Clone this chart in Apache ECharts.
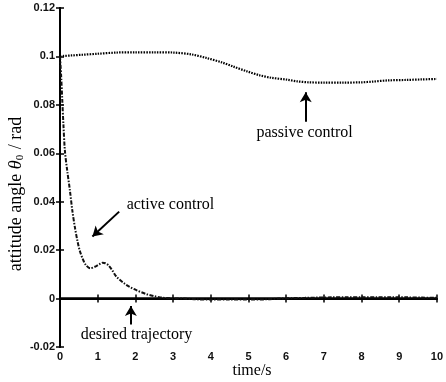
<!DOCTYPE html>
<html>
<head>
    <meta charset="UTF-8" />
    <title>attitude angle</title>
    <script src="https://cdn.jsdelivr.net/npm/echarts@6/dist/echarts.min.js"></script>
    <style>
        html, body { margin: 0; padding: 0; background: #fff; }
        #main { width: 446px; height: 382px; }
    </style>
</head>
<body>
    <div id="main"></div>
    <script>
        // time (s) and attitude angle (rad)
        var activeT = [0, 0.03, 0.06, 0.09, 0.13, 0.19, 0.26, 0.33, 0.4, 0.46, 0.52, 0.6, 0.68, 0.8, 0.95, 1.05, 1.13, 1.2, 1.28, 1.38, 1.5, 1.7, 1.85, 2.05, 2.3, 2.5, 2.7, 3.0, 3.3, 3.6, 4.0, 4.5, 5.0, 5.5, 5.8, 6.2, 6.5, 6.8, 7.2, 7.6, 8.0, 8.4, 8.8, 9.2, 9.6, 10];
        var activeV = [0.1, 0.092, 0.082, 0.072, 0.061, 0.053, 0.045, 0.036, 0.029, 0.024, 0.020, 0.0165, 0.014, 0.0125, 0.0133, 0.0142, 0.0148, 0.0146, 0.0138, 0.0118, 0.009, 0.0063, 0.0048, 0.0033, 0.0018, 0.001, 0.0004, 0.0001, 0, -0.0003, -0.0004, -0.0004, -0.0004, -0.0003, 0, 0.0002, 0.0003, 0.0004, 0.0005, 0.0005, 0.0005, 0.0005, 0.0005, 0.0005, 0.0004, 0.0003];
        var passiveT = [0, 0.1, 0.3, 0.6, 1, 1.5, 2, 2.5, 3, 3.5, 3.9, 4.3, 4.6, 4.97, 5.3, 5.6, 6.02, 6.3, 6.6, 7, 7.5, 8, 8.3, 8.7, 9.2, 9.6, 10];
        var passiveV = [0.1, 0.1002, 0.1004, 0.1007, 0.1011, 0.1016, 0.1017, 0.1017, 0.1016, 0.1008, 0.0993, 0.0975, 0.0958, 0.0938, 0.0922, 0.0912, 0.0904, 0.0897, 0.0893, 0.0892, 0.0892, 0.0893, 0.0896, 0.0901, 0.0903, 0.0905, 0.0907];
        var desiredT = [0, 10];
        var desiredV = [0, 0];

        // annotations: [text, text x, text y, arrow from x, from y, arrow to x, to y]
        var notes = [
            ['passive control', 6.49, 0.0685, 6.52, 0.073, 6.52, 0.0852],
            ['active control', 2.93, 0.0388, 1.57, 0.0359, 0.86, 0.0256],
            ['desired trajectory', 2.03, -0.0149, 1.88, -0.0107, 1.88, -0.0031]
        ];

        function zip(a, b) {
            return a.map(function (x, i) { return [x, b[i]]; });
        }

        var myChart = echarts.init(document.getElementById('main'));
        var tickFont = { fontFamily: 'Liberation Sans', fontWeight: 'bold', fontSize: 11, color: '#111' };
        var boxLine = { show: true, lineStyle: { color: '#000', width: 2 } };

        var option = {
            animation: false,
            grid: { left: 60, right: 4, top: 8, bottom: 35, containLabel: false },
            xAxis: [
                {
                    type: 'value', min: 0, max: 10, interval: 1,
                    axisLine: boxLine,
                    axisTick: { inside: true, length: 4, lineStyle: { color: '#000', width: 1.5 } },
                    axisLabel: Object.assign({ margin: 4 }, tickFont),
                    splitLine: { show: false }
                },
                {
                    type: 'value', min: 0, max: 10, interval: 1, position: 'top',
                    axisLine: boxLine,
                    axisTick: { inside: true, length: 4, lineStyle: { color: '#000', width: 1.5 } },
                    axisLabel: { show: false },
                    splitLine: { show: false }
                }
            ],
            yAxis: [
                {
                    type: 'value', min: -0.02, max: 0.12, interval: 0.02,
                    axisLine: boxLine,
                    axisTick: { inside: true, length: 4, lineStyle: { color: '#000', width: 1.5 } },
                    axisLabel: Object.assign({ margin: 5, formatter: function (v) { return String(+v.toFixed(2)); } }, tickFont),
                    splitLine: { show: false }
                },
                {
                    type: 'value', min: -0.02, max: 0.12, interval: 0.02, position: 'right',
                    axisLine: boxLine,
                    axisTick: { inside: true, length: 4, lineStyle: { color: '#000', width: 1.5 } },
                    axisLabel: { show: false },
                    splitLine: { show: false }
                }
            ],
            series: [
                {
                    name: 'desired trajectory', type: 'line', symbol: 'none',
                    data: zip(desiredT, desiredV),
                    lineStyle: { color: '#000', width: 2.5 }
                },
                {
                    name: 'passive control', type: 'line', symbol: 'none', smooth: 0.3,
                    data: zip(passiveT, passiveV),
                    lineStyle: { color: '#000', width: 2.2, type: [1.5, 1.2] }
                },
                {
                    name: 'active control', type: 'line', symbol: 'none', smooth: 0.3,
                    data: zip(activeT, activeV),
                    lineStyle: { color: '#111', width: 2, type: [4, 1.5, 1.5, 1.5] },
                    markLine: {
                        silent: true, symbol: ['none', 'arrow'], symbolSize: [9, 10],
                        label: { show: false },
                        lineStyle: { color: '#000', width: 2, type: 'solid' },
                        data: notes.map(function (n) {
                            return [{ coord: [n[3], n[4]] }, { coord: [n[5], n[6]] }];
                        })
                    }
                }
            ]
        };
        myChart.setOption(option);

        var graphics = notes.map(function (n) {
            var p = myChart.convertToPixel({ xAxisIndex: 0, yAxisIndex: 0 }, [n[1], n[2]]);
            return {
                type: 'text', x: p[0], y: p[1],
                style: { text: n[0], fontFamily: 'Liberation Serif', fontSize: 16, fill: '#000', align: 'center', verticalAlign: 'middle' }
            };
        });
        graphics.push({
            type: 'text', x: 252, y: 371,
            style: { text: 'time/s', fontFamily: 'Liberation Serif', fontSize: 16, fill: '#000', align: 'center', verticalAlign: 'middle' }
        });
        graphics.push({
            type: 'text', x: 16, y: 194, rotation: Math.PI / 2,
            style: {
                text: 'attitude angle {i|θ}{s|0} / rad',
                fontFamily: 'Liberation Serif', fontSize: 18, fill: '#000', align: 'center', verticalAlign: 'middle',
                rich: {
                    i: { fontFamily: 'Liberation Serif', fontStyle: 'italic', fontSize: 18, fill: '#000' },
                    s: { fontFamily: 'Liberation Serif', fontSize: 11, fill: '#000', padding: [9, 1, 0, 0] }
                }
            }
        });
        myChart.setOption({ graphic: graphics });
    </script>
</body>
</html>
